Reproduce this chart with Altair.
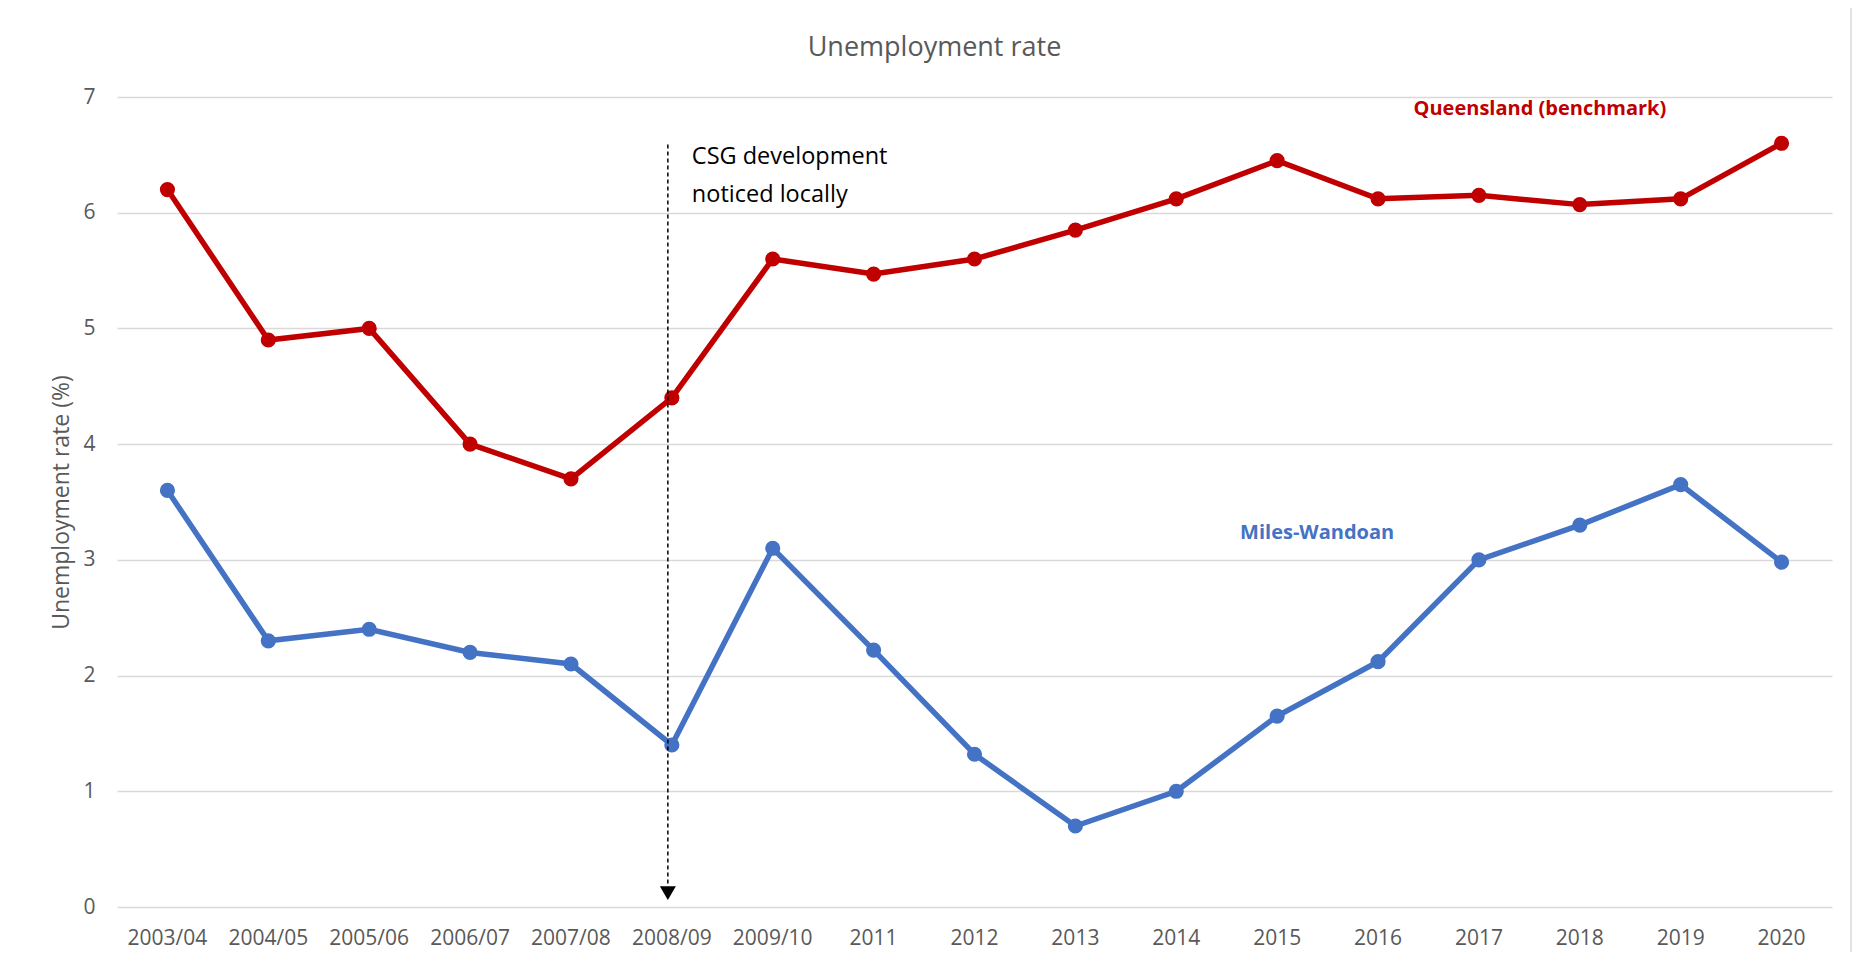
import altair as alt
import pandas as pd

# ---- data ----
periods = ["2003/04", "2004/05", "2005/06", "2006/07", "2007/08", "2008/09", "2009/10",
           "2011", "2012", "2013", "2014", "2015", "2016", "2017", "2018", "2019", "2020"]
queensland = [6.2, 4.9, 5.0, 4.0, 3.7, 4.4, 5.6, 5.47, 5.6, 5.85, 6.12, 6.45, 6.12, 6.15, 6.07, 6.12, 6.6]
miles_wandoan = [3.6, 2.3, 2.4, 2.2, 2.1, 1.4, 3.1, 2.22, 1.32, 0.7, 1.0, 1.65, 2.12, 3.0, 3.3, 3.65, 2.98]
series_names = ["Queensland (benchmark)", "Miles-Wandoan"]
series_colors = ["#C00000", "#4472C4"]
y_ticks = [0, 1, 2, 3, 4, 5, 6, 7]

annot_period = ["2008/09"]
annot_top = [6.59]
annot_bottom = [0.18]
arrow_y = [0.12]
note_lines = ["CSG development", "noticed locally"]
note_y = [6.42]
label_periods = ["2017", "2015"]
label_y = [6.845, 3.18]

FONT = "Open Sans"
GREY = "#595959"

rows = []
for p, q, m in zip(periods, queensland, miles_wandoan):
    rows.append({"period": p, "series": series_names[0], "rate": q})
    rows.append({"period": p, "series": series_names[1], "rate": m})
df = pd.DataFrame(rows)

x_enc = alt.X("period:N", sort=periods, title=None,
              axis=alt.Axis(labelAngle=0, labelFont=FONT, labelFontSize=21, labelColor=GREY,
                            labelPadding=20, ticks=False, tickSize=0, domain=False, grid=False))
y_enc = alt.Y("rate:Q", scale=alt.Scale(domain=[0, 7], nice=False, zero=True),
              title="Unemployment rate (%)",
              axis=alt.Axis(values=y_ticks, format="d", labelFont=FONT, labelFontSize=21,
                            labelColor=GREY, labelPadding=22, ticks=False, tickSize=0,
                            domain=False, grid=True, gridColor="#D9D9D9", gridWidth=1.5,
                            titleFont=FONT, titleFontSize=23, titleFontWeight="normal",
                            titleColor=GREY, titleX=-56, titleY=405, titleAngle=-90,
                            titleAlign="center", titleBaseline="middle"))
color_enc = alt.Color("series:N", scale=alt.Scale(domain=series_names, range=series_colors),
                      legend=None)

# outer chart frame (decorative border like the original chart area)
frame = alt.Chart(pd.DataFrame({"k": [0]})).mark_rect(
    fill="transparent", stroke="#D9D9D9", strokeWidth=1.5, clip=False).encode(
    x=alt.value(-110), x2=alt.value(1734), y=alt.value(-94), y2=alt.value(900))

base = alt.Chart(df).encode(x=x_enc, y=y_enc, color=color_enc)
lines = base.mark_line(strokeWidth=5.5)
dots = base.mark_circle(size=230, opacity=1)

annot_df = pd.DataFrame({"period": annot_period, "top": annot_top, "bottom": annot_bottom,
                         "arrow": arrow_y, "note_y": note_y})
annot_df["note"] = [note_lines]

rule = alt.Chart(annot_df).mark_rule(strokeDash=[4, 3], strokeWidth=1.5, color="black",
                                     xOffset=-4).encode(
    x=alt.X("period:N", sort=periods), y=alt.Y("top:Q"), y2="bottom:Q")
arrow = alt.Chart(annot_df).mark_point(shape="triangle-down", filled=True, size=256,
                                       color="black", opacity=1, xOffset=-4).encode(
    x=alt.X("period:N", sort=periods), y=alt.Y("arrow:Q"))
note = alt.Chart(annot_df).mark_text(align="left", baseline="alphabetic", dx=20,
                                     font=FONT, fontSize=23.5, color="black",
                                     lineHeight=38).encode(
    x=alt.X("period:N", sort=periods), y=alt.Y("note_y:Q"), text="note")

lab_df = pd.DataFrame({"period": label_periods, "y": label_y, "label": series_names})
lab_q = alt.Chart(lab_df.iloc[[0]]).mark_text(align="center", baseline="alphabetic", dx=61,
                                              font=FONT, fontSize=20, fontWeight="bold",
                                              color=series_colors[0]).encode(
    x=alt.X("period:N", sort=periods), y=alt.Y("y:Q"), text="label")
lab_m = alt.Chart(lab_df.iloc[[1]]).mark_text(align="center", baseline="alphabetic", dx=40,
                                              font=FONT, fontSize=20, fontWeight="bold",
                                              color=series_colors[1]).encode(
    x=alt.X("period:N", sort=periods), y=alt.Y("y:Q"), text="label")

chart = alt.layer(frame, lines, dots, rule, arrow, note, lab_q, lab_m).properties(
    width=1715, height=810,
    background="white",
    title=alt.TitleParams("Unemployment rate", font=FONT, fontSize=27, color=GREY,
                          fontWeight="normal", anchor="middle", frame="group",
                          offset=-59.5, dx=-40),
    autosize=alt.AutoSizeParams(type="none"),
    padding={"left": 109, "top": 89, "right": 20, "bottom": 45},
).configure_view(strokeWidth=0, stroke="transparent")

chart.save("out.html", embed_options={"renderer": "svg", "actions": False})
